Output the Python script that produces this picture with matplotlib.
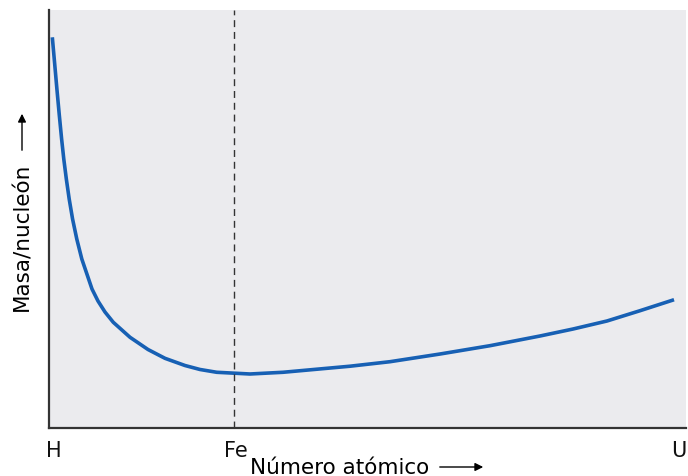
import numpy as np
import matplotlib.pyplot as plt
from matplotlib.patches import FancyArrowPatch

# curve (arbitrary units, x: 0..100, y: 0..100)
xs = [0.52, 0.88, 1.24, 1.60, 1.98, 2.32, 2.72, 3.17, 3.70, 4.36, 5.15, 6.75,
      7.69, 8.79, 10.09, 12.72, 15.54, 18.21, 21.35, 23.70, 26.33, 31.55,
      36.73, 47.25, 53.53, 61.38, 69.23, 77.08, 82.26, 87.60, 92.78, 98.12]
ys = [93.47, 87.32, 81.10, 75.12, 69.14, 64.35, 59.57, 54.78, 50.0, 45.22,
      40.43, 33.25, 30.38, 27.75, 25.29, 21.70, 18.78, 16.67, 14.95, 14.00,
      13.33, 12.92, 13.33, 14.78, 15.86, 17.70, 19.69, 22.01, 23.68, 25.60,
      28.06, 30.69]

tick_pos = [0.8, 29.3, 98.9]
tick_lab = ["H", "Fe", "U"]
fe_x = 29.04

plt.rcParams['font.family'] = ['DejaVu Sans']

fig = plt.figure(figsize=(6.88, 4.77), dpi=100)
ax = fig.add_axes([49/688, 1 - 429/477, 637/688, 418/477])
ax.set_facecolor("#EBEBEE")

ax.plot(xs, ys, color="#1760B4", lw=2.6, solid_capstyle="butt",
        solid_joinstyle="round")
ax.axvline(fe_x, color="#333333", lw=1.0, ls=(0, (5, 3.5)))

ax.set_xlim(0, 100)
ax.set_ylim(0, 100)
ax.set_xticks(tick_pos)
ax.set_xticklabels(tick_lab, fontsize=15)
ax.set_yticks([])
ax.tick_params(axis="x", length=0, pad=9, colors="#111111")

for s in ["top", "right"]:
    ax.spines[s].set_visible(False)
for s in ["left", "bottom"]:
    ax.spines[s].set_color("#333333")
    ax.spines[s].set_linewidth(1.6)

# axis titles with arrows
fig.text(250/688, 1 - 468/477, "Número atómico", fontsize=15.5, ha="left",
         va="center")
fig.text(22/688, 1 - 237/477, "Masa/nucleón", fontsize=15.5, ha="center",
         va="center", rotation=90)
fig.add_artist(FancyArrowPatch(
    (437/688, 1 - 468/477), (486/688, 1 - 468/477), transform=fig.transFigure,
    arrowstyle="-|>", mutation_scale=12, color="black", lw=1.0))
fig.add_artist(FancyArrowPatch(
    (22/688, 1 - 154/477), (22/688, 1 - 112/477), transform=fig.transFigure,
    arrowstyle="-|>", mutation_scale=12, color="black", lw=1.0))

fig.savefig("out.png", dpi=100)
